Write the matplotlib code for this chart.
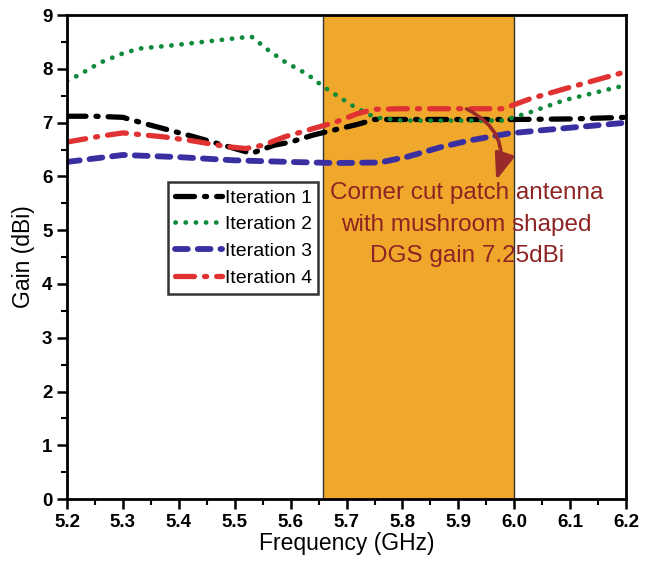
import matplotlib
matplotlib.use("Agg")
from matplotlib import pyplot as plt
from matplotlib.patches import FancyArrowPatch
from matplotlib.ticker import MultipleLocator

plt.rcParams['font.family'] = ['Liberation Sans', 'DejaVu Sans']

# Iteration 1 (black dash-dot)
freq_1 = [5.2, 5.25, 5.3, 5.34, 5.38, 5.43, 5.49, 5.53, 5.57, 5.6, 5.64, 5.68, 5.72, 5.75, 5.8, 5.9, 6.0, 6.1, 6.2]
gain_1 = [7.12, 7.12, 7.1, 6.98, 6.87, 6.73, 6.55, 6.43, 6.58, 6.64, 6.77, 6.87, 6.97, 7.06, 7.06, 7.06, 7.06, 7.07, 7.1]

# Iteration 2 (green dotted)
freq_2 = [5.2, 5.22, 5.26, 5.3, 5.33, 5.39, 5.45, 5.51, 5.53, 5.56, 5.59, 5.63, 5.66, 5.71, 5.75, 5.8, 5.9, 5.98, 6.03, 6.09, 6.2]
gain_2 = [7.78, 7.88, 8.12, 8.29, 8.38, 8.44, 8.51, 8.58, 8.6, 8.35, 8.13, 7.9, 7.66, 7.32, 7.1, 7.04, 7.04, 7.04, 7.2, 7.42, 7.7]

# Iteration 3 (blue dashed)
freq_3 = [5.2, 5.3, 5.4, 5.5, 5.6, 5.68, 5.76, 5.81, 5.87, 5.92, 5.99, 6.05, 6.2]
gain_3 = [6.27, 6.4, 6.36, 6.3, 6.27, 6.25, 6.26, 6.37, 6.55, 6.67, 6.8, 6.86, 7.0]

# Iteration 4 (red dash-dot)
freq_4 = [5.2, 5.26, 5.3, 5.37, 5.42, 5.46, 5.49, 5.52, 5.55, 5.59, 5.65, 5.68, 5.72, 5.75, 5.8, 5.9, 5.98, 6.03, 6.09, 6.2]
gain_4 = [6.64, 6.75, 6.81, 6.74, 6.67, 6.6, 6.55, 6.52, 6.58, 6.74, 6.92, 7.01, 7.17, 7.25, 7.26, 7.26, 7.26, 7.45, 7.63, 7.95]

band_start, band_end = 5.658, 6.0
note = "Corner cut patch antenna\nwith mushroom shaped\nDGS gain 7.25dBi"

fig = plt.figure(figsize=(6.54, 5.62), dpi=100)
ax = fig.add_axes([0.1024, 0.112, 0.855, 0.861])

ax.axvspan(band_start, band_end, facecolor='#F0A82C', edgecolor='#333333', linewidth=1.0, zorder=0)

ax.plot(freq_1, gain_1, color='black', lw=3.8, linestyle=(0, (3.6, 1.9, 0.4, 1.9)),
        dash_capstyle='round', label='Iteration 1')
ax.plot(freq_2, gain_2, color='#0E8A3A', lw=3.4, linestyle=(0, (0.05, 2.1)),
        dash_capstyle='round', label='Iteration 2')
ax.plot(freq_3, gain_3, color='#3A2FA0', lw=4.2, linestyle=(0, (2.2, 1.7)),
        dash_capstyle='round', label='Iteration 3')
ax.plot(freq_4, gain_4, color='#E03232', lw=3.8, linestyle=(0, (3.6, 1.9, 0.4, 1.9)),
        dash_capstyle='round', label='Iteration 4')

arrow = FancyArrowPatch((5.91, 7.28), (5.966, 5.88), connectionstyle='arc3,rad=-0.45',
                        arrowstyle='-|>,head_width=6,head_length=16', color='#9A2A2A',
                        lw=2.6, zorder=5)
ax.add_patch(arrow)

ax.text(5.915, 5.89, note, ha='center', va='top', fontsize=17.5, color='#8E2323',
        linespacing=1.55, zorder=6)

leg = ax.legend(loc='upper left', bbox_to_anchor=(0.181, 0.655), fontsize=14,
                frameon=True, fancybox=False, handlelength=2.4, handletextpad=0.15,
                borderpad=0.35, labelspacing=0.47, borderaxespad=0)
leg.get_frame().set_edgecolor('black')
leg.get_frame().set_linewidth(1.8)

ax.set_xlim(5.2, 6.2)
ax.set_ylim(0, 9)
ax.xaxis.set_major_locator(MultipleLocator(0.1))
ax.xaxis.set_minor_locator(MultipleLocator(0.05))
ax.yaxis.set_major_locator(MultipleLocator(1))
ax.yaxis.set_minor_locator(MultipleLocator(0.5))
ax.set_xticklabels([f"{v:.1f}" for v in ax.get_xticks()])
ax.tick_params(which='major', direction='out', length=7, width=1.8, labelsize=13.5)
ax.tick_params(which='minor', direction='out', length=4, width=1.5)
for lbl in ax.get_xticklabels() + ax.get_yticklabels():
    lbl.set_fontweight('bold')
for sp in ax.spines.values():
    sp.set_linewidth(2.0)

ax.set_xlabel("Frequency (GHz)", fontsize=16.5, labelpad=1)
ax.set_ylabel("Gain (dBi)", fontsize=16.5, labelpad=5)

fig.savefig("out.png", dpi=100)
